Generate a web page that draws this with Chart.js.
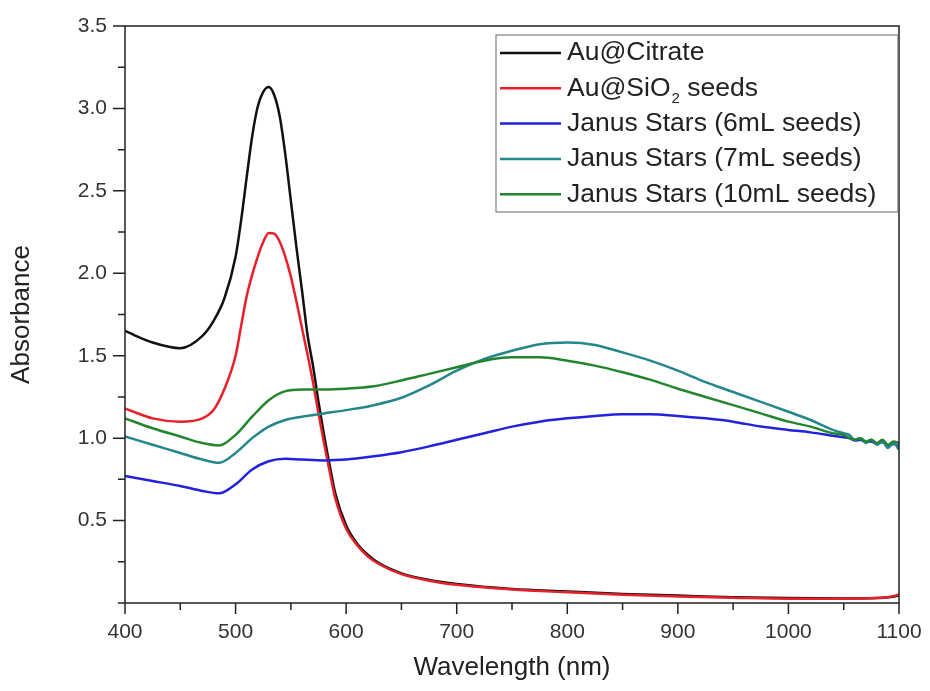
<!DOCTYPE html>
<html lang="en">
<head>
  <meta charset="UTF-8" />
  <title>Absorbance spectra</title>
  <script src="https://cdn.jsdelivr.net/npm/chart.js"></script>
  <style>
    body {
      margin: 0;
      padding: 0;
      background: #fff;
    }
    #wrap {
      width: 930px;
      height: 691px;
    }
  </style>
</head>
<body>
  <div id="wrap"><canvas id="espectro"></canvas></div>

  <script>
    // wavelength grid (nm) for the gold seed spectra
    const wlAu = [400, 425, 450, 470, 480, 490, 500, 505, 510, 515, 520, 525, 530, 535, 540, 545, 550, 555, 560, 565,
                  570, 575, 580, 585, 590, 600, 610, 620, 630, 650, 675, 700, 750, 800, 850, 900, 950, 1000, 1050, 1080, 1090, 1100];
    const citrate = [1.65, 1.58, 1.545, 1.62, 1.71, 1.85, 2.10, 2.32, 2.58, 2.83, 3.01, 3.10, 3.13, 3.08, 2.95, 2.72, 2.44, 2.16, 1.90, 1.63,
                     1.44, 1.22, 1.02, 0.84, 0.67, 0.47, 0.36, 0.29, 0.24, 0.18, 0.14, 0.115, 0.085, 0.07, 0.055, 0.045, 0.035, 0.03, 0.028, 0.03, 0.035, 0.045];
    const sio2Seeds = [1.18, 1.12, 1.10, 1.12, 1.17, 1.30, 1.50, 1.68, 1.86, 1.99, 2.10, 2.19, 2.245, 2.24, 2.19, 2.10, 1.98, 1.83, 1.67, 1.51,
                       1.34, 1.15, 0.97, 0.80, 0.64, 0.45, 0.35, 0.28, 0.235, 0.175, 0.135, 0.11, 0.082, 0.065, 0.05, 0.04, 0.032, 0.026, 0.026, 0.03, 0.035, 0.05];

    // wavelength grid (nm) for the Janus star spectra
    const wlJanus = [400, 425, 450, 470, 485, 500, 515, 530, 545, 560, 580, 600, 625, 650, 675, 700, 725, 750, 775, 800,
                     825, 850, 875, 900, 925, 950, 975, 1000, 1020, 1040, 1050, 1055, 1060, 1065, 1070, 1075, 1080, 1085, 1090, 1095, 1100];
    const janus6 = [0.77, 0.74, 0.71, 0.68, 0.665, 0.72, 0.81, 0.86, 0.875, 0.87, 0.865, 0.87, 0.89, 0.915, 0.95, 0.99, 1.03, 1.07, 1.10, 1.12,
                    1.135, 1.145, 1.145, 1.135, 1.12, 1.10, 1.07, 1.05, 1.035, 1.015, 1.005, 1.0, 0.985, 0.99, 0.975, 0.98, 0.965, 0.975, 0.955, 0.965, 0.95];
    const janus7 = [1.01, 0.96, 0.91, 0.87, 0.85, 0.91, 1.00, 1.07, 1.11, 1.13, 1.15, 1.17, 1.20, 1.245, 1.32, 1.41, 1.48, 1.53, 1.57, 1.58,
                    1.565, 1.52, 1.47, 1.41, 1.34, 1.28, 1.22, 1.16, 1.11, 1.05, 1.03, 1.02, 0.99, 1.00, 0.97, 0.99, 0.96, 0.98, 0.94, 0.97, 0.93];
    const janus10 = [1.12, 1.06, 1.01, 0.97, 0.955, 1.02, 1.13, 1.23, 1.285, 1.295, 1.295, 1.30, 1.315, 1.35, 1.39, 1.43, 1.47, 1.49, 1.49, 1.47,
                     1.44, 1.40, 1.355, 1.30, 1.25, 1.20, 1.15, 1.10, 1.07, 1.03, 1.02, 1.00, 0.99, 1.00, 0.98, 0.99, 0.97, 0.99, 0.96, 0.98, 0.97];

    const seriesNames = ['Au@Citrate', 'Au@SiO|2| seeds', 'Janus Stars (6mL seeds)', 'Janus Stars (7mL seeds)', 'Janus Stars (10mL seeds)'];
    const seriesColors = ['#111111', '#e8202a', '#2222dd', '#23878c', '#23862f'];

    const xMajor = [400, 500, 600, 700, 800, 900, 1000, 1100];
    const yMajor = [0.5, 1.0, 1.5, 2.0, 2.5, 3.0, 3.5];

    const pares = (xs, ys) => xs.map((x, i) => ({ x: x, y: ys[i] }));

    const esMayor = (lista, v) => lista.some(m => Math.abs(m - v) < 1e-6);

    // ticks (major longer, minor shorter), frame and legend box
    const marco = {
      id: 'marco',
      afterDraw(chart) {
        const ctx = chart.ctx;
        const a = chart.chartArea;
        const sx = chart.scales.x, sy = chart.scales.y;
        ctx.save();
        ctx.strokeStyle = '#222';
        ctx.lineWidth = 1.5;
        ctx.strokeRect(a.left, a.top, a.right - a.left, a.bottom - a.top);

        ctx.beginPath();
        sx.ticks.forEach(t => {
          const px = sx.getPixelForValue(t.value);
          const len = esMayor(xMajor, t.value) ? 11 : 7;
          ctx.moveTo(px, a.bottom);
          ctx.lineTo(px, a.bottom + len);
        });
        sy.ticks.forEach(t => {
          const py = sy.getPixelForValue(t.value);
          const len = esMayor(yMajor, t.value) ? 12 : 7;
          ctx.moveTo(a.left, py);
          ctx.lineTo(a.left - len, py);
        });
        ctx.stroke();

        // legend
        const lx = a.right - 403, ly = a.top + 9, lw = 402, lh = 177;
        ctx.strokeStyle = '#666';
        ctx.lineWidth = 1;
        ctx.strokeRect(lx, ly, lw, lh);
        const font = '26.5px "Liberation Sans", Arial, sans-serif';
        const small = '15px "Liberation Sans", Arial, sans-serif';
        ctx.textBaseline = 'middle';
        seriesNames.forEach((nombre, i) => {
          const cy = ly + 18 + i * 35.3;
          ctx.strokeStyle = seriesColors[i];
          ctx.lineWidth = 2.5;
          ctx.beginPath();
          ctx.moveTo(lx + 4, cy);
          ctx.lineTo(lx + 65, cy);
          ctx.stroke();
          ctx.fillStyle = '#222';
          let tx = lx + 71;
          nombre.split('|').forEach((parte, k) => {
            if (k % 2 === 1) {
              ctx.font = small;
              ctx.fillText(parte, tx + 1, cy + 11);
              tx += ctx.measureText(parte).width + 1;
            } else {
              ctx.font = font;
              ctx.fillText(parte, tx, cy);
              tx += ctx.measureText(parte).width;
            }
          });
        });
        ctx.restore();
      }
    };

    const fuenteTicks = { family: '"Liberation Sans", Arial, sans-serif', size: 21 };
    const fuenteTitulo = { family: '"Liberation Sans", Arial, sans-serif', size: 26 };

    const datos = [citrate, sio2Seeds, janus6, janus7, janus10];
    const ejes = [wlAu, wlAu, wlJanus, wlJanus, wlJanus];

    new Chart(document.getElementById('espectro').getContext('2d'), {
      type: 'line',
      data: {
        datasets: datos.map((serie, i) => ({
          label: seriesNames[i].replace(/\|/g, ''),
          data: pares(ejes[i], serie),
          borderColor: seriesColors[i],
          borderWidth: 2.5,
          pointRadius: 0,
          cubicInterpolationMode: 'monotone',
          fill: false,
          order: 5 - i
        }))
      },
      options: {
        responsive: true,
        maintainAspectRatio: false,
        animation: false,
        layout: { padding: { top: 26, right: 31, left: 0, bottom: 0 } },
        plugins: {
          legend: { display: false },
          tooltip: { enabled: false }
        },
        scales: {
          x: {
            type: 'linear',
            min: 400,
            max: 1100,
            afterFit: s => { s.height = 88; },
            border: { display: false },
            grid: { drawOnChartArea: false, drawTicks: true, tickLength: 12, tickColor: 'rgba(0,0,0,0)' },
            ticks: {
              stepSize: 50,
              color: '#333',
              font: fuenteTicks,
              padding: 5,
              maxRotation: 0,
              autoSkip: false,
              callback: v => esMayor(xMajor, v) ? String(v) : ''
            },
            title: {
              display: true,
              text: 'Wavelength (nm)',
              color: '#222',
              font: fuenteTitulo,
              padding: { top: 0, bottom: 8 }
            }
          },
          y: {
            min: 0,
            max: 3.5,
            afterFit: s => { s.width = 125; },
            border: { display: false },
            grid: { drawOnChartArea: false, drawTicks: true, tickLength: 12, tickColor: 'rgba(0,0,0,0)' },
            ticks: {
              stepSize: 0.25,
              color: '#333',
              font: fuenteTicks,
              padding: 6,
              autoSkip: false,
              callback: v => esMayor(yMajor, v) ? v.toFixed(1) : ''
            },
            title: {
              display: true,
              text: 'Absorbance',
              color: '#222',
              font: fuenteTitulo,
              padding: { top: 6, bottom: 0 }
            }
          }
        }
      },
      plugins: [marco]
    });
  </script>
</body>
</html>
